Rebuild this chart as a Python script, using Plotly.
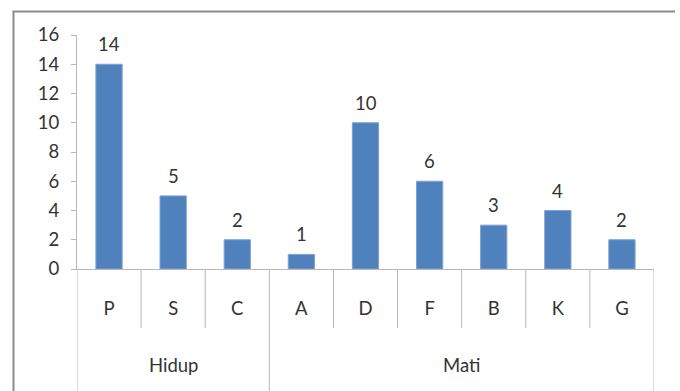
import plotly.graph_objects as go

# Data
groups = ["Hidup", "Hidup", "Hidup", "Mati", "Mati", "Mati", "Mati", "Mati", "Mati"]
categories = ["P", "S", "C", "A", "D", "F", "B", "K", "G"]
values = [14, 5, 2, 1, 10, 6, 3, 4, 2]
y_ticks = [0, 2, 4, 6, 8, 10, 12, 14, 16]

FONT = "Lato"
FS = 18.5
TXT = "#333333"
GRID = "#b8b8b8"

W, H = 680, 391
ml, mr, mt, mb = 77, 26, 35, 122
plot_w = W - ml - mr
plot_h = H - mt - mb


def px_to_paper_x(px):
    return (px - ml) / plot_w


def px_to_paper_y(py):
    return (H - mb - py) / plot_h


fig = go.Figure()
fig.add_trace(go.Bar(
    x=categories,
    y=values,
    width=0.41,
    marker=dict(color="#4F81BD", line=dict(color="#7EA3D3", width=1)),
    hoverinfo="x+y",
))

shapes = []
annotations = []

# value labels above bars
for c, v in zip(categories, values):
    annotations.append(dict(
        x=c, y=v, xref="x", yref="y", text=str(v), showarrow=False,
        yanchor="middle", yshift=20, font=dict(family=FONT, size=FS, color=TXT),
    ))

# category separators: short between categories, long at group boundaries
n = len(categories)
for i in range(n + 1):
    is_group_edge = (i == 0 or i == n or groups[i] != groups[i - 1])
    y_end = px_to_paper_y(H) if is_group_edge else px_to_paper_y(328)
    shapes.append(dict(
        type="line", xref="x", yref="paper",
        x0=i - 0.5, x1=i - 0.5, y0=0, y1=y_end,
        line=dict(color=GRID, width=1),
    ))

# group labels centred under their categories
seen = []
for g in groups:
    if g not in seen:
        seen.append(g)
for g in seen:
    idx = [i for i, gg in enumerate(groups) if gg == g]
    annotations.append(dict(
        x=(idx[0] + idx[-1]) / 2, y=px_to_paper_y(365), xref="x", yref="paper",
        text=g, showarrow=False, yanchor="middle",
        font=dict(family=FONT, size=FS, color=TXT),
    ))

# chart frame (left and top edges)
frame_col = "#8c8c8c"
shapes.append(dict(type="line", xref="paper", yref="paper",
                   x0=px_to_paper_x(13.5), x1=px_to_paper_x(13.5),
                   y0=px_to_paper_y(H), y1=px_to_paper_y(11.5),
                   line=dict(color=frame_col, width=2)))
shapes.append(dict(type="line", xref="paper", yref="paper",
                   x0=px_to_paper_x(12.5), x1=px_to_paper_x(675),
                   y0=px_to_paper_y(11.5), y1=px_to_paper_y(11.5),
                   line=dict(color=frame_col, width=2)))

fig.update_layout(
    width=W, height=H,
    margin=dict(l=ml, r=mr, t=mt, b=mb),
    paper_bgcolor="white", plot_bgcolor="white",
    showlegend=False,
    bargap=0.59,
    shapes=shapes,
    annotations=annotations,
    font=dict(family=FONT, size=FS, color=TXT),
    xaxis=dict(
        type="category", categoryorder="array", categoryarray=categories,
        range=[-0.5, n - 0.5],
        showline=True, linecolor=GRID, linewidth=1,
        ticks="", showgrid=False, zeroline=False,
        ticklabelstandoff=23,
        tickfont=dict(family=FONT, size=FS, color=TXT),
    ),
    yaxis=dict(
        range=[0, 16], tickvals=y_ticks,
        showline=True, linecolor=GRID, linewidth=1,
        ticks="outside", ticklen=5, tickcolor=GRID,
        showgrid=False, zeroline=False,
        ticklabelstandoff=8,
        tickfont=dict(family=FONT, size=FS, color=TXT),
    ),
)

fig.write_html("out.html")
